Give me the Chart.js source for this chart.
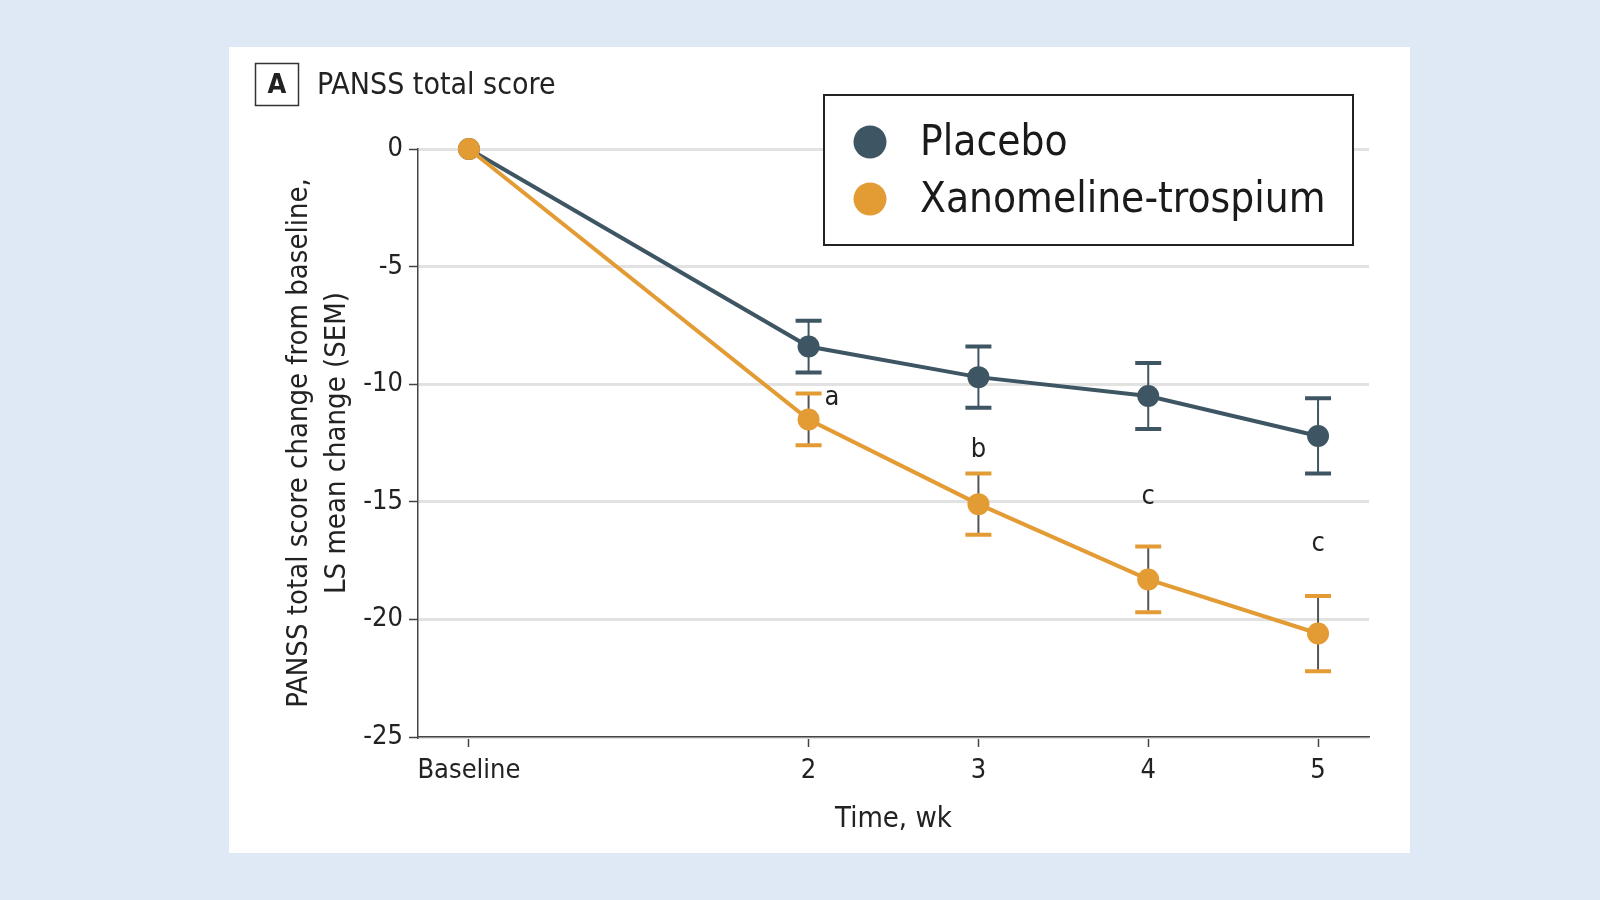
<!DOCTYPE html>
<html>
<head>
<meta charset="utf-8">
<title>PANSS total score</title>
<script src="https://cdn.jsdelivr.net/npm/chart.js@4.4.1/dist/chart.umd.min.js"></script>
<style>
  html, body { margin: 0; background: #dfe9f5; }
  canvas { display: block; }
</style>
</head>
<body>
<canvas id="chart-panss" width="1600" height="900"></canvas>
<script>
// data (LS mean change, SEM)
const weeks = [0, 2, 3, 4, 5];
const xTickLabels = ['Baseline', '2', '3', '4', '5'];
const yTicks = [0, -5, -10, -15, -20, -25];
const placebo = [0, -8.4, -9.7, -10.5, -12.2];
const placeboSem = [0, 1.1, 1.3, 1.4, 1.6];
const xanomeline = [0, -11.5, -15.1, -18.3, -20.6];
const xanomelineSem = [0, 1.1, 1.3, 1.4, 1.6];
const sigLetters = ['a', 'b', 'c', 'c'];
const sigWeeks = [2, 3, 4, 5];
const sigY = [-10.6, -12.8, -14.8, -16.8];

const FONT = "'Liberation Sans Narrow', 'DejaVu Sans Condensed', 'Open Sans', sans-serif";
const SLATE = '#3e5663';
const ORANGE = '#e39b34';
const INK = '#222222';

const errorBars = {
  id: 'errorBars',
  beforeDatasetsDraw(chart) {
    const ctx = chart.ctx;
    const x = chart.scales.x, y = chart.scales.y;
    const sets = [
      { vals: placebo, sem: placeboSem, cap: SLATE, stem: SLATE },
      { vals: xanomeline, sem: xanomelineSem, cap: ORANGE, stem: '#555555' },
    ];
    ctx.save();
    sets.forEach(s => {
      weeks.forEach((w, i) => {
        if (!s.sem[i]) return;
        const px = x.getPixelForValue(w);
        const top = y.getPixelForValue(s.vals[i] + s.sem[i]);
        const bot = y.getPixelForValue(s.vals[i] - s.sem[i]);
        ctx.strokeStyle = s.stem;
        ctx.lineWidth = 2;
        ctx.beginPath();
        ctx.moveTo(px, top);
        ctx.lineTo(px, bot);
        ctx.stroke();
        ctx.strokeStyle = s.cap;
        ctx.lineWidth = 4;
        ctx.beginPath();
        ctx.moveTo(px - 13, top); ctx.lineTo(px + 13, top);
        ctx.moveTo(px - 13, bot); ctx.lineTo(px + 13, bot);
        ctx.stroke();
      });
    });
    ctx.restore();
  }
};

const panel = {
  id: 'panel',
  beforeDraw(chart) {
    const ctx = chart.ctx;
    ctx.save();
    ctx.fillStyle = '#ffffff';
    ctx.fillRect(229, 47, 1181, 806);
    // panel label
    ctx.strokeStyle = '#333333';
    ctx.lineWidth = 1.5;
    ctx.strokeRect(255.5, 63.5, 43, 42);
    ctx.fillStyle = INK;
    ctx.textBaseline = 'middle';
    ctx.textAlign = 'center';
    ctx.font = `bold 27px ${FONT}`;
    ctx.fillText('A', 277, 86);
    ctx.textAlign = 'left';
    ctx.font = `30px ${FONT}`;
    ctx.fillText('PANSS total score', 317, 86);
    ctx.restore();
  },
  afterDraw(chart) {
    const ctx = chart.ctx;
    const x = chart.scales.x, y = chart.scales.y;
    ctx.save();
    // significance letters
    ctx.fillStyle = INK;
    ctx.font = `27px ${FONT}`;
    ctx.textBaseline = 'middle';
    sigLetters.forEach((t, i) => {
      let px = x.getPixelForValue(sigWeeks[i]);
      const py = y.getPixelForValue(sigY[i]);
      if (i === 0) { ctx.textAlign = 'left'; px += 16; } else { ctx.textAlign = 'center'; }
      ctx.fillText(t, px, py);
    });
    // legend box
    ctx.fillStyle = '#ffffff';
    ctx.fillRect(824, 95, 529, 150);
    ctx.strokeStyle = '#222222';
    ctx.lineWidth = 2;
    ctx.strokeRect(824, 95, 529, 150);
    chart.data.datasets.slice().sort((a, b) => b.order - a.order).forEach((ds, i) => {
      const cy = 142 + i * 57;
      ctx.fillStyle = ds.backgroundColor;
      ctx.beginPath();
      ctx.arc(870, cy, 16.5, 0, Math.PI * 2);
      ctx.fill();
      ctx.fillStyle = '#1a1a1a';
      ctx.textAlign = 'left';
      ctx.font = `42px ${FONT}`;
      ctx.fillText(ds.label, 920, cy + 2);
    });
    ctx.restore();
  }
};

new Chart(document.getElementById('chart-panss'), {
  type: 'line',
  data: {
    datasets: [
      {
        label: 'Placebo',
        data: weeks.map((w, i) => ({ x: w, y: placebo[i] })),
        borderColor: SLATE,
        backgroundColor: SLATE,
        borderWidth: 4,
        pointRadius: 11,
        pointHoverRadius: 11,
        pointBorderWidth: 0,
        clip: false,
        order: 2,
      },
      {
        label: 'Xanomeline-trospium',
        data: weeks.map((w, i) => ({ x: w, y: xanomeline[i] })),
        borderColor: ORANGE,
        backgroundColor: ORANGE,
        borderWidth: 4,
        pointRadius: 11,
        pointHoverRadius: 11,
        pointBorderWidth: 0,
        clip: false,
        order: 1,
      },
    ]
  },
  options: {
    responsive: false,
    animation: false,
    layout: { padding: { left: 280, top: 149, right: 231, bottom: 63 } },
    plugins: {
      legend: { display: false },
      tooltip: { enabled: false },
    },
    scales: {
      x: {
        type: 'linear',
        min: -0.3,
        max: 5.3,
        afterBuildTicks: s => { s.ticks = weeks.map(v => ({ value: v })); },
        afterFit: s => { s.height = 100; },
        ticks: {
          callback: v => xTickLabels[weeks.indexOf(v)],
          font: { family: FONT, size: 27 },
          color: INK,
          padding: 8,
          maxRotation: 0,
        },
        grid: { drawOnChartArea: false, tickLength: 10, tickColor: '#444444', tickWidth: 1.5 },
        border: { color: '#444444', width: 1.5 },
        title: {
          display: true,
          text: 'Time, wk',
          font: { family: FONT, size: 29 },
          color: INK,
          padding: { top: 0, bottom: 0 },
        },
      },
      y: {
        min: -25,
        max: 0,
        afterBuildTicks: s => { s.ticks = yTicks.map(v => ({ value: v })); },
        afterFit: s => { s.width = 138; },
        ticks: {
          font: { family: FONT, size: 27 },
          color: INK,
          padding: 6,
        },
        grid: { color: '#e2e2e2', lineWidth: 3, tickLength: 9, tickColor: '#444444', tickWidth: 1.5 },
        border: { color: '#444444', width: 1.5 },
        title: {
          display: true,
          text: ['PANSS total score change from baseline,', 'LS mean change (SEM)'],
          font: { family: FONT, size: 29, lineHeight: 1.31 },
          color: INK,
          padding: { top: 0, bottom: 0 },
        },
      },
    },
  },
  plugins: [panel, errorBars],
});
</script>
</body>
</html>
